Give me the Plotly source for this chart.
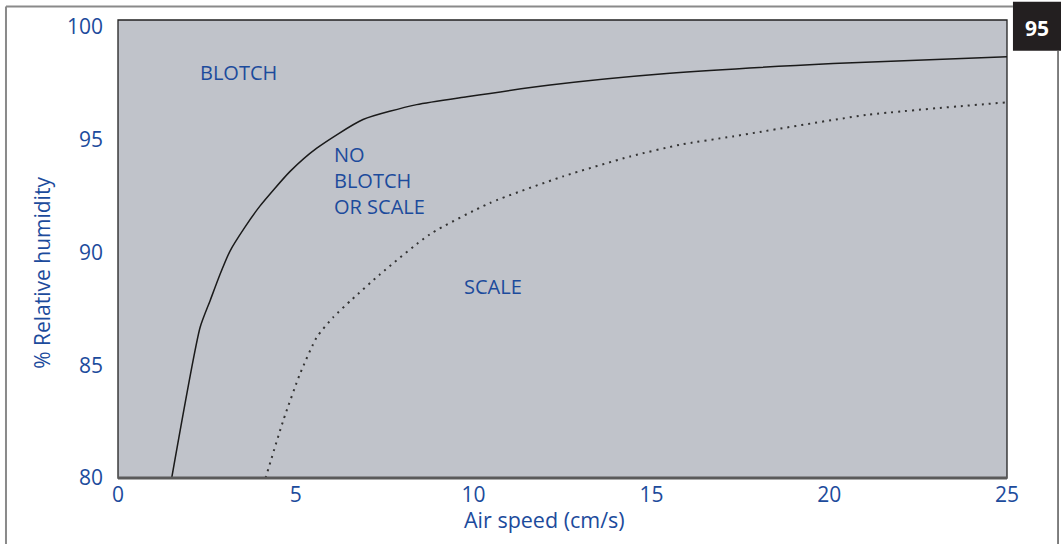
import plotly.graph_objects as go

# Boundary between BLOTCH and NO BLOTCH OR SCALE (solid)
blotch_x = [1.51, 2.31, 2.59, 2.87, 3.15, 3.57, 3.99, 4.84, 5.59, 6.89, 8.40, 9.81, 12.15, 15.43, 20.11, 25.0]
blotch_y = [80.0, 86.68, 87.86, 89.03, 90.06, 91.12, 92.05, 93.59, 94.62, 95.89, 96.55, 96.90, 97.42, 97.93, 98.37, 98.67]

# Boundary between NO BLOTCH OR SCALE and SCALE (dotted)
scale_x = [4.15, 4.65, 5.12, 5.59, 6.05, 6.57, 7.37, 8.77, 10.46, 12.52, 14.40, 15.80, 17.29, 21.05, 25.0]
scale_y = [80.0, 82.56, 84.62, 86.24, 87.12, 87.90, 89.03, 90.80, 92.19, 93.37, 94.25, 94.77, 95.14, 96.09, 96.65]

x_ticks = [0, 5, 10, 15, 20, 25]
y_ticks = [80, 85, 90, 95, 100]

region_labels = ["BLOTCH", "NO<br>BLOTCH<br>OR SCALE", "SCALE"]
region_x = [2.25, 6.01, 9.67]
region_y = [97.96, 93.20, 88.47]

BLUE = "#1c4b9c"
FONT = "Open Sans"

fig = go.Figure()
fig.add_trace(go.Scatter(x=blotch_x, y=blotch_y, mode="lines",
                         line=dict(color="#1a1a1a", width=1.5, shape="spline", smoothing=0.6),
                         hoverinfo="skip", showlegend=False))
fig.add_trace(go.Scatter(x=scale_x, y=scale_y, mode="lines",
                         line=dict(color="#333333", width=2, dash="2px,5px", shape="spline", smoothing=0.6),
                         hoverinfo="skip", showlegend=False))

for t, x, y in zip(region_labels, region_x, region_y):
    fig.add_annotation(x=x, y=y, xref="x", yref="y", text=t, showarrow=False,
                       xanchor="left", yanchor="middle", align="left",
                       font=dict(family=FONT, size=20, color=BLUE))

# axis titles
fig.add_annotation(x=0.480, y=-0.0913, xref="paper", yref="paper", text="Air speed (cm/s)",
                   showarrow=False, xanchor="center", yanchor="middle",
                   font=dict(family=FONT, size=21.5, color=BLUE))
fig.add_annotation(x=-0.0855, y=0.448, xref="paper", yref="paper", text="% Relative humidity",
                   showarrow=False, xanchor="center", yanchor="middle", textangle=-90,
                   font=dict(family=FONT, size=21, color=BLUE))

# page number box
fig.add_shape(type="rect", xref="paper", yref="paper", x0=1.0067, x1=1.07, y0=0.9326, y1=1.04,
              fillcolor="#231f20", line=dict(width=0), layer="above")
fig.add_annotation(x=1.034, y=0.983, xref="paper", yref="paper", text="<b>95</b>", showarrow=False,
                   xanchor="center", yanchor="middle",
                   font=dict(family=FONT, size=21, color="white"))
# outer frame lines
fig.add_shape(type="line", xref="paper", yref="paper", x0=-0.1260, x1=1.0067, y0=1.0293, y1=1.0293,
              line=dict(color="#8a8a8a", width=2))
fig.add_shape(type="line", xref="paper", yref="paper", x0=-0.1260, x1=-0.1260, y0=1.0293, y1=-0.15,
              line=dict(color="#8a8a8a", width=2))
fig.add_shape(type="line", xref="paper", yref="paper", x0=1.0574, x1=1.0574, y0=0.9326, y1=-0.15,
              line=dict(color="#555555", width=1.5))
# plot frame
fig.add_shape(type="rect", xref="paper", yref="paper", x0=0, x1=1, y0=0, y1=1,
              line=dict(color="#222222", width=1.3), layer="above")
fig.add_shape(type="line", xref="paper", yref="paper", x0=0, x1=1, y0=0, y1=0,
              line=dict(color="#5a5a5a", width=3), layer="above")

fig.update_layout(
    width=1061, height=544,
    margin=dict(l=118, r=54, t=18, b=66),
    paper_bgcolor="white", plot_bgcolor="#c0c3ca",
    font=dict(family=FONT, color=BLUE),
    xaxis=dict(range=[0, 25], tickvals=x_ticks, showgrid=False, zeroline=False,
               ticks="", tickfont=dict(size=21, color=BLUE), fixedrange=True,
               ticklabelstandoff=2),
    yaxis=dict(range=[80, 100.3], tickvals=y_ticks, showgrid=False, zeroline=False,
               ticks="", tickfont=dict(size=21, color=BLUE), fixedrange=True,
               ticklabelstandoff=14),
)

fig.write_html("out.html", config={"displayModeBar": False},
               post_script="document.body.style.margin='0';")
